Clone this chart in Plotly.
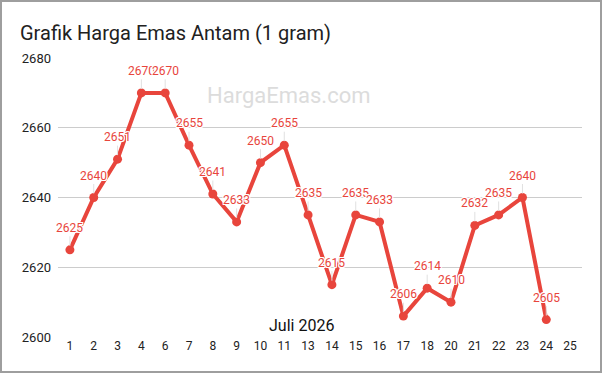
import plotly.graph_objects as go

days = ["1", "2", "3", "4", "6", "7", "8", "9", "10", "11", "13", "14", "15", "16", "17", "18", "20", "21", "22", "23", "24", "25"]
prices = [2625, 2640, 2651, 2670, 2670, 2655, 2641, 2633, 2650, 2655, 2635, 2615, 2635, 2633, 2606, 2614, 2610, 2632, 2635, 2640, 2605, None]
y_ticks = [2600, 2620, 2640, 2660, 2680]

RED = "#e8453c"
FONT = "Roboto"
W, H = 602, 373
L, R, T, B = 58, 20, 58, 36
PW, PH = W - L - R, H - T - B

fig = go.Figure()
fig.add_trace(go.Scatter(
    x=days, y=prices, mode="lines+markers",
    line=dict(color=RED, width=4),
    marker=dict(color=RED, size=9),
    cliponaxis=False, connectgaps=False, hoverinfo="skip",
))

outline = "1px 1px 0 #fff, -1px -1px 0 #fff, 1px -1px 0 #fff, -1px 1px 0 #fff, 0 1px 0 #fff, 0 -1px 0 #fff, 1px 0 0 #fff, -1px 0 0 #fff"
annos = []
for i, p in enumerate(prices):
    if p is None:
        continue
    annos.append(dict(
        x=i, y=p, xref="x", yref="y", text=str(p),
        showarrow=True, arrowhead=0, arrowwidth=1, arrowcolor="#e0e0e0",
        ax=0, ay=-22, standoff=4,
        font=dict(family=FONT, size=12, color=RED, shadow=outline),
    ))

def px_x(px):
    return (px - L) / PW

def px_y(py):
    return (T + PH - py) / PH

annos.append(dict(x=px_x(18), y=px_y(33), xref="paper", yref="paper", xanchor="left", yanchor="middle",
                  text="Grafik Harga Emas Antam (1 gram)", showarrow=False,
                  font=dict(family=FONT, size=20, color="#212121")))
annos.append(dict(x=px_x(289), y=px_y(95), xref="paper", yref="paper", xanchor="center", yanchor="middle",
                  text="HargaEmas.com", showarrow=False,
                  font=dict(family=FONT, size=22, color="#dcdcdc")))
annos.append(dict(x=px_x(301), y=px_y(325), xref="paper", yref="paper", xanchor="center", yanchor="middle",
                  text="Juli 2026", showarrow=False,
                  font=dict(family=FONT, size=16, color="#111111")))

fig.update_layout(
    width=W, height=H,
    margin=dict(l=L, r=R, t=T, b=B, pad=0),
    paper_bgcolor="white", plot_bgcolor="white",
    showlegend=False,
    font=dict(family=FONT, size=13, color="#222222"),
    xaxis=dict(type="category", categoryorder="array", categoryarray=days,
               range=[-0.5, len(days) - 0.5],
               showgrid=False, zeroline=False, showline=False, ticks="",
               tickfont=dict(size=12, color="#222222"), fixedrange=True),
    yaxis=dict(range=[2600, 2680], tickvals=y_ticks, showgrid=True, gridcolor="#cccccc",
               gridwidth=1, zeroline=False, showline=False, ticks="",
               tickfont=dict(size=13, color="#222222"), ticklabelstandoff=6, fixedrange=True),
    annotations=annos,
    shapes=[dict(type="rect", xref="paper", yref="paper",
                 x0=px_x(1), x1=px_x(601), y0=px_y(372), y1=px_y(1),
                 line=dict(color="#9e9e9e", width=2), layer="above")],
)

fig.write_html("out.html")
